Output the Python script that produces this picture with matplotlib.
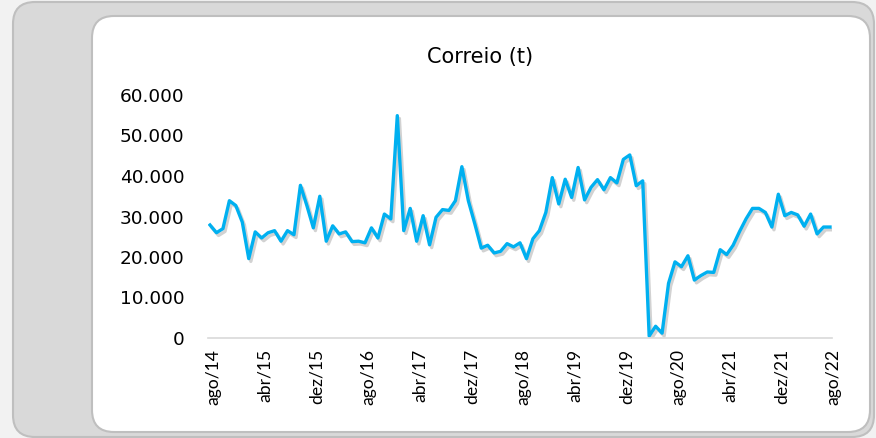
import matplotlib
matplotlib.use("Agg")
import matplotlib.pyplot as plt
import matplotlib.patheffects as pe
import matplotlib.transforms as mtransforms
from matplotlib.patches import FancyBboxPatch
from matplotlib.ticker import FuncFormatter

# Correio (t), mensal ago/14 .. ago/22
values = [
    27900, 26000, 27000, 33900, 32700, 28600, 19600, 26200, 24700, 26000,
    26500, 23900, 26500, 25500, 37700, 32700, 27200, 35000, 23900, 27700,
    25700, 26200, 23800, 23900, 23500, 27200, 24700, 30600, 29400, 54900,
    26500, 32000, 23900, 30200, 23000, 29800, 31700, 31500, 33900, 42300,
    33900, 28200, 22200, 22900, 21000, 21400, 23300, 22500, 23500, 19600,
    24500, 26500, 31000, 39600, 33100, 39200, 34700, 42100, 34100, 37200,
    39100, 36600, 39600, 38300, 44100, 45200, 37600, 38800, 500, 2900,
    1200, 13500, 18800, 17600, 20300, 14300, 15400, 16300, 16200, 21800,
    20600, 22900, 26300, 29400, 32000, 32000, 31000, 27400, 35500, 30200,
    31000, 30400, 27600, 30600, 25700, 27400, 27400,
]
tick_labels = ["ago/14", "abr/15", "dez/15", "ago/16", "abr/17", "dez/17", "ago/18",
               "abr/19", "dez/19", "ago/20", "abr/21", "dez/21", "ago/22"]
tick_step = 8
yticks = [0, 10000, 20000, 30000, 40000, 50000, 60000]

W, H = 876, 438
fig = plt.figure(figsize=(W / 100, H / 100), dpi=100)
fig.patch.set_facecolor("#F2F2F2")

# fundo em pixels (origem no topo) para as caixas arredondadas
bg = fig.add_axes([0, 0, 1, 1], zorder=-1)
bg.set_xlim(0, W)
bg.set_ylim(H, 0)
bg.axis("off")


def px_box(x0, y0, x1, y1, fc, ec, r):
    bg.add_patch(FancyBboxPatch((x0, y0), x1 - x0, y1 - y0,
                                boxstyle=f"round,pad=0,rounding_size={r}",
                                facecolor=fc, edgecolor=ec, linewidth=1.5))


px_box(13, 2, 874, 437, "#D9D9D9", "#BFBFBF", 22)
px_box(92, 16, 870, 432, "white", "#BFBFBF", 22)

ax = fig.add_axes([208 / W, 1 - 338 / H, (832 - 208) / W, (338 - 95) / H])
ax.set_facecolor("none")

x = list(range(len(values)))
ax.plot(x, values, color="#00B0F0", linewidth=2.4, solid_joinstyle="round",
        path_effects=[pe.SimpleLineShadow(offset=(1.5, -2), shadow_color="#7f7f7f", alpha=0.35),
                      pe.Normal()])

ax.set_xlim(-0.31, len(values) - 1 + 0.31)
ax.set_ylim(0, 60000)
ax.set_yticks(yticks)
ax.yaxis.set_major_formatter(FuncFormatter(lambda v, p: f"{int(v):,}".replace(",", ".")))
ax.set_xticks(range(0, len(values), tick_step))
ax.set_xticklabels(tick_labels, rotation=90)

for s in ["top", "right", "left"]:
    ax.spines[s].set_visible(False)
ax.spines["bottom"].set_color("#D9D9D9")
ax.spines["bottom"].set_linewidth(1.2)

ax.tick_params(axis="y", length=0, pad=17, labelsize=13.3, labelcolor="#000000")
ax.tick_params(axis="x", length=0, pad=8, labelsize=12.6, labelcolor="#000000")
shift = mtransforms.ScaledTranslation(3 / 100, 0, fig.dpi_scale_trans)
for lab in ax.get_xticklabels():
    lab.set_family(["Lato", "DejaVu Sans"])
    lab.set_transform(lab.get_transform() + shift)
for lab in ax.get_yticklabels():
    lab.set_family("DejaVu Sans")

fig.text(480 / W, 1 - 57 / H, "Correio (t)", ha="center", va="center",
         fontsize=15, family="DejaVu Sans", color="#000000")

fig.savefig("out.png", dpi=100, facecolor=fig.get_facecolor())
